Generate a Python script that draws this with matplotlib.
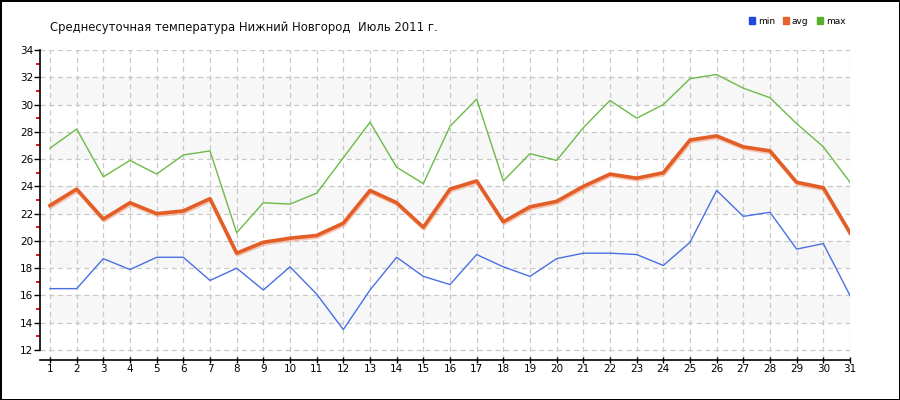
import matplotlib
matplotlib.use("Agg")
import matplotlib.pyplot as plt
import matplotlib.patheffects as pe
from matplotlib.patches import Patch

days = list(range(1, 32))
t_min = [16.5, 16.5, 18.7, 17.9, 18.8, 18.8, 17.1, 18.0, 16.4, 18.1,
         16.1, 13.5, 16.4, 18.8, 17.4, 16.8, 19.0, 18.1, 17.4, 18.7,
         19.1, 19.1, 19.0, 18.2, 19.9, 23.7, 21.8, 22.1, 19.4, 19.8, 16.0]
t_avg = [22.6, 23.8, 21.6, 22.8, 22.0, 22.2, 23.1, 19.1, 19.9, 20.2,
         20.4, 21.3, 23.7, 22.8, 21.0, 23.8, 24.4, 21.4, 22.5, 22.9,
         24.0, 24.9, 24.6, 25.0, 27.4, 27.7, 26.9, 26.6, 24.3, 23.9, 20.6]
t_max = [26.8, 28.2, 24.7, 25.9, 24.9, 26.3, 26.6, 20.6, 22.8, 22.7,
         23.5, 26.1, 28.7, 25.4, 24.2, 28.4, 30.4, 24.4, 26.4, 25.9,
         28.3, 30.3, 29.0, 30.0, 31.9, 32.2, 31.2, 30.5, 28.6, 26.9, 24.3]
title = "Среднесуточная температура Нижний Новгород  Июль 2011 г."
labels = ["min", "avg", "max"]

c_min, c_avg, c_max = "#4a6fe3", "#e35d26", "#6cba48"

fig = plt.figure(figsize=(9, 4), dpi=100)
fig.patch.set_edgecolor("black")
fig.patch.set_linewidth(2)
ax = fig.add_axes([40/900, 40/400, 810/900, 310/400])

ax.set_xlim(1 - 0.375, 31)
ax.set_ylim(12 - 0.733, 34)

for lo in [14, 18, 22, 26, 30]:
    ax.axhspan(lo, lo + 2, xmin=0.375/30.375, xmax=1, color="#f7f7f7", zorder=0, lw=0)

ax.set_xticks(days)
ax.set_yticks(range(12, 35, 2))
ax.set_yticks(range(13, 34, 2), minor=True)
ax.grid(True, which="major", color="#c8c8c8", linestyle=(0, (4, 3)), linewidth=0.9, zorder=1)
ax.tick_params(axis="y", which="major", length=4, width=1, labelsize=7.5, pad=1, color="black")
ax.tick_params(axis="y", which="minor", length=3, width=1.3, color="#e00000")
ax.tick_params(axis="x", which="major", length=4, width=1, labelsize=7.5, pad=1, direction="inout")
for s in ["top", "right"]:
    ax.spines[s].set_visible(False)
ax.spines["left"].set_linewidth(1.2)
ax.spines["bottom"].set_linewidth(1.2)
ax.spines["left"].set_bounds(12, 34)

ax.plot(days, t_min, color=c_min, lw=1.0, zorder=3)
ax.plot(days, t_max, color=c_max, lw=1.0, zorder=3)
ax.plot(days, t_avg, color=c_avg, lw=2.6, zorder=4,
        path_effects=[pe.SimpleLineShadow(offset=(0.5, -1.2), shadow_color="#f0a080", alpha=0.6), pe.Normal()])

fig.text(50/900, 1 - 28/400, title, fontsize=8.4, va="center", ha="left", color="#111111")

handles = [Patch(color=c) for c in ["#2048e0", "#e8642c", "#58b02a"]]
fig.legend(handles, labels, loc="center", bbox_to_anchor=(797/900, 1 - 21/400), ncol=3,
           frameon=False, fontsize=6.5, handlelength=0.7, handleheight=0.7,
           handletextpad=0.3, columnspacing=0.9, borderpad=0)

fig.savefig("out.png", dpi=100, edgecolor=fig.get_edgecolor())
